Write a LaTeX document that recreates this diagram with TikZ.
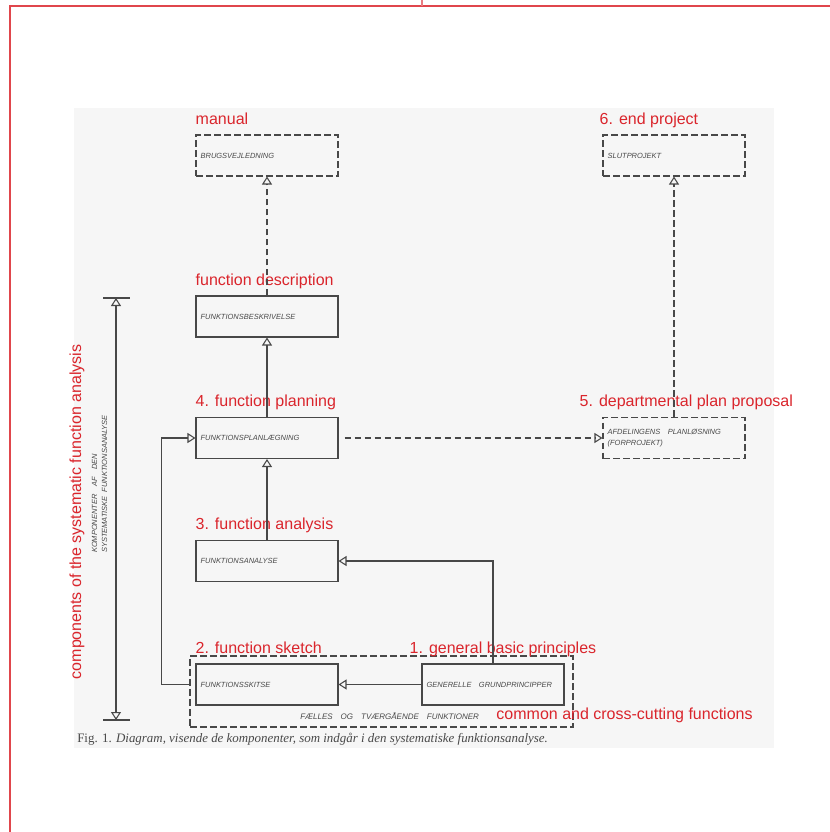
\documentclass[tikz,border=0pt]{standalone}
\usepackage{fontspec}
\setmainfont{Liberation Serif}
\setsansfont{Liberation Sans}
\usepackage{xcolor}
\usepackage{tikz}
\usetikzlibrary{shapes,arrows.meta,positioning}

\definecolor{notered}{RGB}{218,37,44}
\definecolor{inkgray}{RGB}{72,72,72}
\definecolor{scangray}{RGB}{246,246,246}

\begin{document}
\begin{tikzpicture}[x=0.75pt, y=-0.75pt, node distance=60pt, >={Triangle[open,length=6pt,width=7.5pt]}]
    \tikzstyle{box} = [rectangle, draw=inkgray, line width=0.8pt, minimum height=30.75pt, inner xsep=3.5pt, text width=99.5pt, align=left, text=inkgray, font=\sffamily\itshape\fontsize{5.6}{8.2}\selectfont]
    \tikzstyle{dbox} = [box, dash pattern=on 5pt off 2.5pt]
    \tikzstyle{note} = [text=notered, font=\sffamily\fontsize{12}{14}\selectfont, inner sep=0pt, text height=9pt, text depth=3pt]
    \tikzstyle{smalltext} = [text=inkgray, font=\sffamily\itshape\fontsize{5.6}{7.5}\selectfont, inner sep=0pt]
    \tikzstyle{arrow} = [draw=inkgray, line width=0.8pt, ->]
    \tikzstyle{darrow} = [arrow, dash pattern=on 5pt off 2.5pt]

    % page and scan
    \useasboundingbox (0,0) rectangle (830,832);
    \fill[white] (0,0) rectangle (830,832);
    \draw[notered!85, line width=1.1pt] (830,6) -- (10,6) -- (10,832);
    \draw[notered!60, line width=1.1pt] (422,0) -- (422,6);
    \fill[scangray] (74,108) rectangle (774,748);

    \node[dbox] (manual) at (267,155.5) {BRUGSVEJLEDNING};
    \node[dbox] (endproj) at (674,155.5) {SLUTPROJEKT};
    \node[box] (descr) at (267,316.5) {FUNKTIONSBESKRIVELSE};
    \node[box] (plan) at (267,438) {FUNKTIONSPLANLÆGNING};
    \node[dbox] (dept) at (674,438) {AFDELINGENS\quad PLANLØSNING\\(FORPROJEKT)};
    \node[box] (analysis) at (267,561) {FUNKTIONSANALYSE};
    \node[box] (sketch) at (267,684.5) {FUNKTIONSSKITSE};
    \node[box] (basic) at (493,684.5) {GENERELLE\quad GRUNDPRINCIPPER};
    \node[draw=inkgray, line width=0.8pt, dash pattern=on 5pt off 2.5pt, minimum width=287.25pt, minimum height=53.25pt] (common) at (381.5,691.5) {};
    \node[smalltext, anchor=base west, font=\sffamily\itshape\fontsize{6}{7.5}\selectfont] (commontext) at (300,719) {FÆLLES\quad OG\quad TVÆRGÅENDE\quad FUNKTIONER};

    % red notes
    \node[note, above right=4.5pt and 0pt of manual.north west] (manualnote) {manual};
    \node[note, above right=4.5pt and -2.25pt of endproj.north west] (endprojnote) {6. end project};
    \node[note, above right=4.5pt and 0pt of descr.north west] (descrnote) {function description};
    \node[note, above right=4.5pt and 0pt of plan.north west] (plannote) {4. function planning};
    \node[note, above right=4.5pt and -17.25pt of dept.north west] (deptnote) {5. departmental plan proposal};
    \node[note, above right=4.5pt and 0pt of analysis.north west] (analysisnote) {3. function analysis};
    \node[note, above right=4.5pt and 0pt of sketch.north west] (sketchnote) {2. function sketch};
    \node[note, above right=4.5pt and -9pt of basic.north west] (basicnote) {1. general basic principles};
    \node[note, anchor=base west] (commonnote) at ([xshift=12.75pt]commontext.base east) {common and cross-cutting functions};

    % components
    \coordinate (dimtop) at (116,298);
    \coordinate (dimbot) at (116,720);
    \draw[arrow, <->] (dimtop) -- (dimbot);
    \draw[draw=inkgray, line width=0.8pt] ([xshift=-9.75pt]dimtop) -- ([xshift=10.5pt]dimtop);
    \draw[draw=inkgray, line width=0.8pt] ([xshift=-9.75pt]dimbot) -- ([xshift=10.5pt]dimbot);
    \node[smalltext, rotate=90, align=left] (comptext) at (99.5,484) {KOMPONENTER\quad AF\quad DEN\\SYSTEMATISKE\ \ FUNKTIONSANALYSE};
    \node[note, rotate=90] (compnote) at (77,512) {components of the systematic function analysis};

    \draw[darrow] (descr) -- (manual);
    \draw[arrow] (plan) -- (descr);
    \draw[arrow] (analysis) -- (plan);
    \draw[darrow, shorten <=4.5pt] (plan) -- (dept);
    \draw[darrow] (dept) -- (endproj);
    \draw[arrow] (basic.north) |- (analysis.east);
    \draw[arrow] (basic) -- (sketch);
    \draw[arrow] (sketch.west -| common.west) -- ++(-28,0) |- (plan.west);

    \node[anchor=base west, text=inkgray, font=\fontsize{9.7}{11}\selectfont, inner sep=0pt] (caption) at (77,742) {Fig. 1. \textit{Diagram, visende de komponenter, som indgår i den systematiske funktionsanalyse.}};
\end{tikzpicture}
\end{document}
